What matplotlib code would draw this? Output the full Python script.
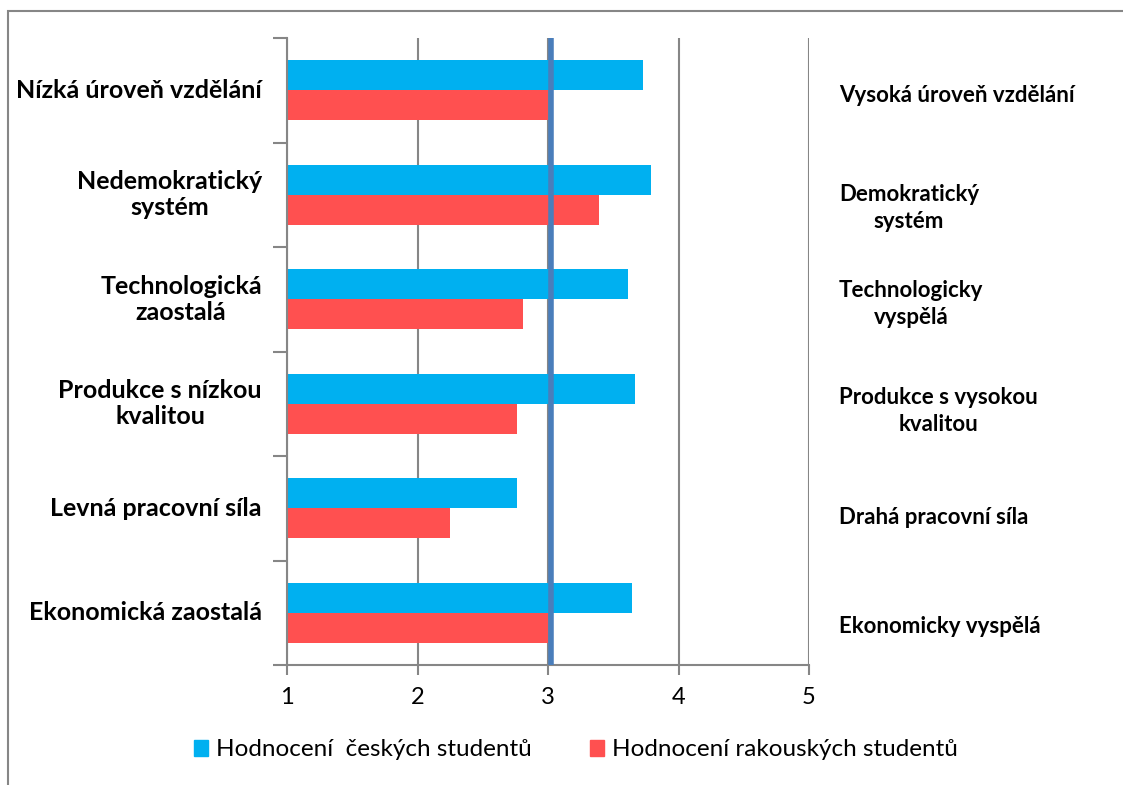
import matplotlib.pyplot as plt
from matplotlib.patches import Rectangle, Patch

# data
left_labels = ['Nízká úroveň vzdělání', 'Nedemokratický\nsystém', 'Technologická\nzaostalá',
               'Produkce s nízkou\nkvalitou', 'Levná pracovní síla', 'Ekonomická zaostalá']
right_labels = ['Vysoká úroveň vzdělání', 'Demokratický\nsystém', 'Technologicky\nvyspělá',
                'Produkce s vysokou\nkvalitou', 'Drahá pracovní síla', 'Ekonomicky vyspělá']
czech = [3.73, 3.79, 3.61, 3.67, 2.76, 3.64]
austrian = [3.0, 3.39, 2.81, 2.76, 2.25, 3.0]
series_names = ['Hodnocení  českých studentů', 'Hodnocení rakouských studentů']
reference = 3.02
xticks = [1, 2, 3, 4, 5]

blue = '#00b0f0'
red = '#ff5050'
grey = '#868686'

plt.rcParams['font.family'] = ['Lato', 'DejaVu Sans']

fig = plt.figure(figsize=(11.23, 7.85), dpi=100)
ax = fig.add_axes([287/1123, 1-665/785, (809-287)/1123, (665-38)/785])

# outer chart border (right / bottom edges fall outside the image)
fig.patches.append(Rectangle((8/1123, -0.1), 1.2, 1-11/785+0.1, transform=fig.transFigure,
                             fill=False, edgecolor=grey, linewidth=1.5))

pos = list(range(len(left_labels)))
h = 0.285
ax.barh([p - h/2 for p in pos], [v - 1 for v in czech], left=1, height=h, color=blue, zorder=2)
ax.barh([p + h/2 for p in pos], [v - 1 for v in austrian], left=1, height=h, color=red, zorder=2)
ax.axvline(reference, color='#4a7ebb', linewidth=4, zorder=3)

ax.set_xlim(1, 5)
ax.set_ylim(len(pos) - 0.5, -0.5)
ax.set_xticks(xticks)
ax.set_xticklabels([str(t) for t in xticks], fontsize=17)
ax.set_yticks([p - 0.5 for p in pos] + [len(pos) - 0.5])
ax.set_yticklabels([])
ax.tick_params(axis='x', length=7, width=1.5, color=grey, pad=9)
ax.tick_params(axis='y', length=10, width=1.5, color=grey)
ax.grid(axis='x', color=grey, linewidth=1.5, zorder=1)
for s in ['top', 'right']:
    ax.spines[s].set_visible(False)
for s in ['left', 'bottom']:
    ax.spines[s].set_color(grey)
    ax.spines[s].set_linewidth(1.5)

right_offsets = [5, 13, 5, 7, 9, 14]
for p, lab in zip(pos, left_labels):
    ax.annotate(lab, xy=(0, p), xycoords=('axes fraction', 'data'), xytext=(-25, 0),
                textcoords='offset pixels', ha='right', va='center', multialignment='center',
                fontsize=18, fontweight='bold', linespacing=1.15)
for p, lab, off in zip(pos, right_labels, right_offsets):
    ax.annotate(lab, xy=(1, p), xycoords=('axes fraction', 'data'), xytext=(30, -off),
                textcoords='offset pixels', ha='left', va='center', multialignment='center',
                fontsize=16, fontweight='bold', linespacing=1.35)

handles = [Patch(color=blue), Patch(color=red)]
fig.legend(handles, series_names, loc='center', bbox_to_anchor=(0.5125, 1-750/785), ncol=2,
           frameon=False, fontsize=17.5, handlelength=0.6, handleheight=0.6, handletextpad=0.3,
           columnspacing=2.4)

fig.savefig('out.png', dpi=100)
